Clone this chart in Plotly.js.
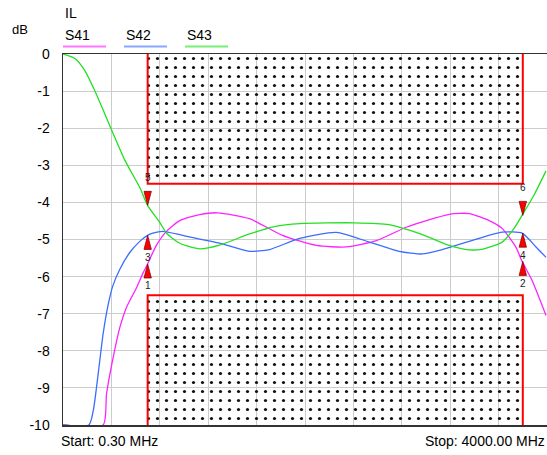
<!DOCTYPE html>
<html>
<head>
<meta charset="utf-8">
<script src="https://cdn.plot.ly/plotly-3.0.1.min.js"></script>
<style>
html,body{margin:0;padding:0;overflow:hidden;background:#fff;}
#chart{width:547px;height:455px;}
</style>
</head>
<body>
<div id="chart"></div>
<script>
// ---- Sweep settings (MHz) ----
const startFreq = 0.3;
const stopFreq = 4000;
const yMin = -10, yMax = 0;
const yTickVals = [0, -1, -2, -3, -4, -5, -6, -7, -8, -9, -10];
const yTickText = ['0', '-1', '-2', '-3', '-4', '-5', '-6', '-7', '-8', '-9', '-10'];

// ---- Series S41 ----
const freqS41 = [0.3, 332, 360, 415, 470, 525, 608, 662, 699, 773, 855, 965, 1130, 1278, 1542, 1814, 2095, 2342, 2590, 2837, 3192, 3357, 3522, 3629, 3742, 3794, 3876, 3992];
const valS41  = [-10, -10, -9.16, -8.18, -7.37, -6.83, -6.3, -5.9, -5.66, -5.15, -4.78, -4.49, -4.33, -4.28, -4.44, -4.89, -5.16, -5.2, -5.03, -4.67, -4.32, -4.3, -4.49, -4.7, -5.2, -5.59, -6.1, -7.05];

// ---- Series S42 ----
const freqS42 = [0.3, 214, 250, 291, 332, 374, 412, 470, 552, 635, 699, 742, 825, 990, 1295, 1542, 1707, 1955, 2260, 2532, 2779, 2969, 3134, 3357, 3629, 3794, 3909, 3992];
const valS42  = [-10, -10, -9.62, -8.62, -7.54, -6.75, -6.25, -5.8, -5.35, -5.05, -4.89, -4.83, -4.78, -4.89, -5.1, -5.32, -5.27, -4.97, -4.81, -5.07, -5.32, -5.39, -5.27, -5.05, -4.8, -4.83, -5.2, -5.48];

// ---- Series S43 ----
const freqS43 = [0.3, 99, 181, 264, 396, 511, 635, 699, 800, 858, 965, 1130, 1295, 1542, 1748, 1955, 2408, 2697, 2862, 3027, 3192, 3357, 3480, 3629, 3728, 3794, 3893, 3992];
const valS43  = [0, -0.12, -0.45, -1.0, -2.0, -2.86, -3.6, -4.08, -4.54, -4.84, -5.1, -5.25, -5.15, -4.85, -4.65, -4.57, -4.55, -4.6, -4.75, -4.94, -5.16, -5.28, -5.25, -5.07, -4.7, -4.35, -3.8, -3.15];

// ---- Limit mask ----
const maskStart = 700, maskStop = 3800;
const upperLimit = -3.5, lowerLimit = -6.5;

// ---- Markers ----
const markerNums   = [1, 2, 3, 4, 5, 6];
const markerFreq   = [700, 3800, 700, 3800, 700, 3800];
const markerVal    = [-5.66, -5.59, -4.89, -4.83, -4.08, -4.35];
const markerDir    = ['up', 'up', 'up', 'up', 'down', 'down'];

// ---- Labels ----
const seriesNames = ['S41', 'S42', 'S43'];
const seriesColors = ['#ff22ff', '#3a6cff', '#22e022'];
const legendColors = ['#ff77ff', '#88a8ff', '#77ee77'];
const chartTitle = 'IL';
const unitLabel = 'dB';

const FONT = 'Liberation Sans, Arial, sans-serif';
const span = stopFreq - startFreq;

const traces = [];
// mask regions: pattern fill + open red outline (edge on the axis is left to the axis line)
function maskTraces(yEdge, yLimit) {
  return [{
    x: [maskStart, maskStart, maskStop, maskStop, maskStart],
    y: [yEdge, yLimit, yLimit, yEdge, yEdge],
    mode: 'lines', fill: 'toself',
    fillcolor: 'rgba(255,255,255,0)',
    fillpattern: {shape: '.', size: 9, solidity: 0.1, fgcolor: '#111', bgcolor: 'rgba(255,255,255,0)'},
    line: {width: 0, color: 'rgba(0,0,0,0)'},
    hoverinfo: 'skip', showlegend: false
  }, {
    x: [maskStart, maskStart, maskStop, maskStop],
    y: [yEdge, yLimit, yLimit, yEdge],
    mode: 'lines', line: {color: '#ff0000', width: 2},
    hoverinfo: 'skip', showlegend: false
  }];
}
traces.push(...maskTraces(yMax, upperLimit));
traces.push(...maskTraces(yMin, lowerLimit));

const fr = [freqS41, freqS42, freqS43];
const vl = [valS41, valS42, valS43];
for (let i = 0; i < 3; i++) {
  traces.push({
    x: fr[i], y: vl[i], mode: 'lines', name: seriesNames[i],
    line: {color: seriesColors[i], width: 1.3, shape: 'spline', smoothing: 0.6},
    showlegend: false, hoverinfo: 'skip'
  });
}

// marker triangles (size in px converted to data units)
const plotW = 484, plotH = 371;
const halfW = 3.7 * span / plotW;       // MHz
const triH = 14 * (yMax - yMin) / plotH; // dB
const annotations = [];
for (let k = 0; k < markerNums.length; k++) {
  const f = markerFreq[k], v = markerVal[k];
  const b = markerDir[k] === 'up' ? v - triH : v + triH;
  traces.push({
    x: [f, f - halfW, f + halfW, f], y: [v, b, b, v],
    mode: 'lines', fill: 'toself', fillcolor: '#ff0000',
    line: {color: '#700000', width: 0.7},
    hoverinfo: 'skip', showlegend: false
  });
  annotations.push({
    x: f, y: v, xref: 'x', yref: 'y', text: String(markerNums[k]),
    showarrow: false, font: {family: FONT, size: 10, color: '#222'},
    yshift: markerDir[k] === 'up' ? -22 : 28
  });
}

// text labels
annotations.push({xref: 'paper', yref: 'paper', x: -63/484, y: 1 + 24/371, xanchor: 'left', yanchor: 'middle',
  xshift: 10, text: unitLabel, showarrow: false, font: {family: FONT, size: 13, color: '#000'}});
annotations.push({xref: 'paper', yref: 'paper', x: 0, y: 1 + 41/371, xanchor: 'left', yanchor: 'middle',
  text: chartTitle, showarrow: false, font: {family: FONT, size: 14, color: '#000'}});
const legendX = [0, 61, 122];
const shapes = [];
for (let i = 0; i < 3; i++) {
  annotations.push({xref: 'paper', yref: 'paper', x: legendX[i] / 484, y: 1 + 19/371, xanchor: 'left', yanchor: 'middle',
    text: seriesNames[i], showarrow: false, font: {family: FONT, size: 14, color: '#000'}});
  shapes.push({type: 'line', xref: 'paper', yref: 'paper', x0: legendX[i] / 484, x1: (legendX[i] + 43) / 484,
    y0: 1 + 7.5/371, y1: 1 + 7.5/371, line: {color: legendColors[i], width: 2}});
}
annotations.push({xref: 'paper', yref: 'paper', x: -4/484, y: -16/371, xanchor: 'left', yanchor: 'middle',
  text: 'Start: ' + startFreq.toFixed(2) + ' MHz', showarrow: false, font: {family: FONT, size: 14, color: '#000'}});
annotations.push({xref: 'paper', yref: 'paper', x: 1, y: -16/371, xanchor: 'right', yanchor: 'middle',
  text: 'Stop: ' + stopFreq.toFixed(2) + ' MHz', showarrow: false, font: {family: FONT, size: 14, color: '#000'}});

const xTicks = [];
for (let k = 0; k <= 10; k++) xTicks.push(startFreq + span * k / 10);

const layout = {
  width: 547, height: 455,
  margin: {l: 63, r: 0, t: 54, b: 30, pad: 0},
  paper_bgcolor: '#fff', plot_bgcolor: '#fff',
  showlegend: false,
  xaxis: {range: [startFreq, stopFreq], tickvals: xTicks, showticklabels: false, ticks: '',
    showgrid: true, gridcolor: '#cccccc', gridwidth: 1, zeroline: false,
    showline: true, linecolor: '#333', linewidth: 1.5, mirror: true},
  yaxis: {range: [yMin, yMax], tickvals: yTickVals, ticktext: yTickText, ticks: '', ticklabelstandoff: 9,
    tickfont: {family: FONT, size: 14, color: '#000'},
    showgrid: true, gridcolor: '#cccccc', gridwidth: 1, zeroline: false,
    showline: true, linecolor: '#333', linewidth: 1.5},
  annotations: annotations,
  shapes: shapes
};

Plotly.newPlot('chart', traces, layout, {staticPlot: true, displayModeBar: false});
</script>
</body>
</html>
